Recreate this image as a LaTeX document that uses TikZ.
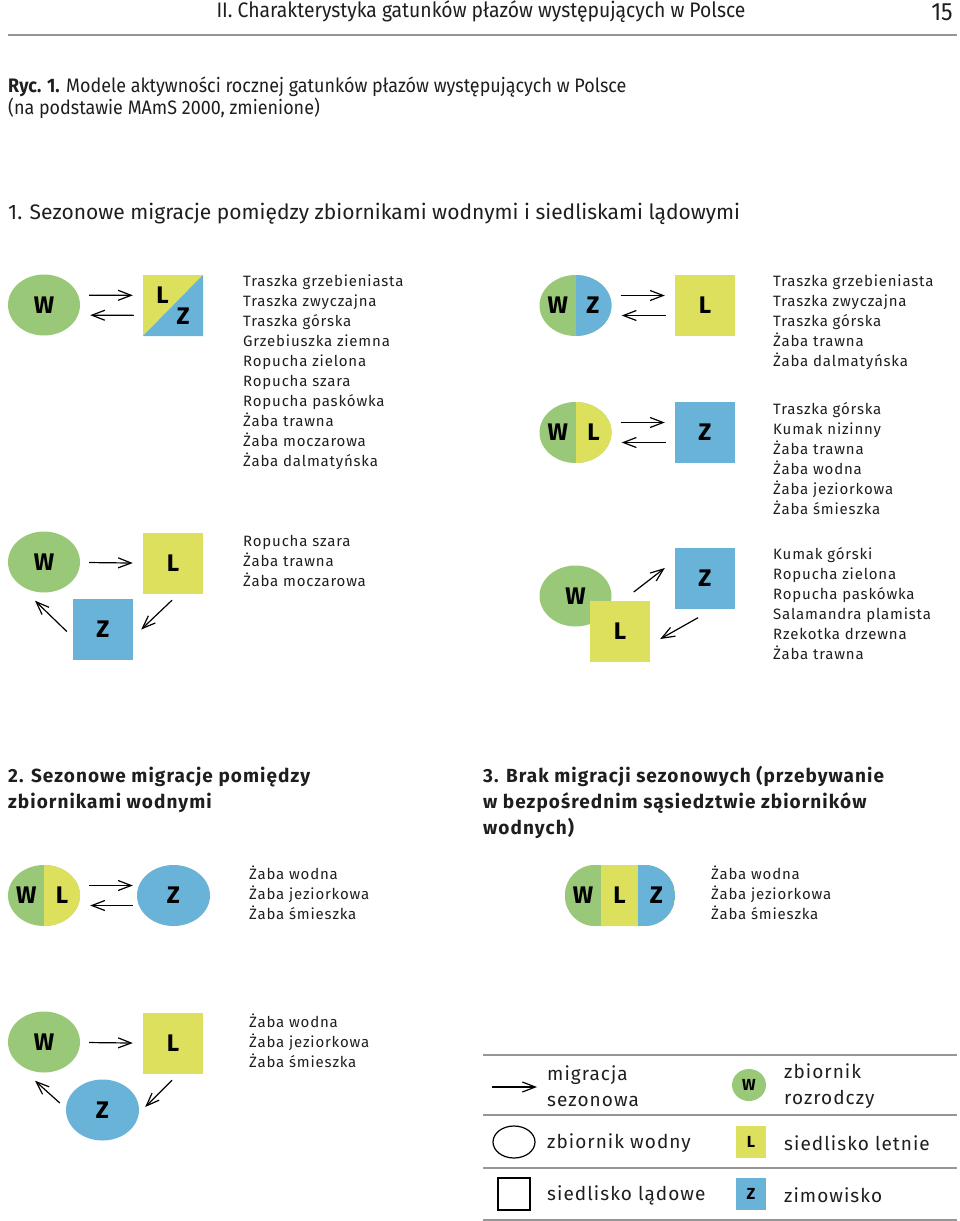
\documentclass[tikz,border=0pt]{standalone}
\usepackage{fontspec}
\setmainfont[LetterSpace=5.5]{Fira Sans}
\newfontfamily\plainfont{Fira Sans}
\newfontfamily\narrowfont[FakeStretch=0.92]{Fira Sans}
\newcommand\symfont{\plainfont\bfseries}
\usetikzlibrary{positioning,arrows.meta,shapes.geometric,calc}
\definecolor{WGreen}{RGB}{153,201,120}
\definecolor{LYellow}{RGB}{220,224,92}
\definecolor{ZBlue}{RGB}{106,179,216}
\definecolor{RuleGray}{RGB}{150,150,150}
\definecolor{DarkText}{RGB}{30,30,30}

\begin{document}
\begin{tikzpicture}[x=1pt, y=-1pt,
    pond/.style={ellipse, minimum width=72pt, minimum height=61pt, inner sep=0pt,
        fill=WGreen, text=black, font=\symfont\fontsize{24}{24}\selectfont},
    land/.style={rectangle, minimum width=60pt, minimum height=61pt, inner sep=0pt,
        text=black, font=\symfont\fontsize{24}{24}\selectfont},
    halfz/.style={path picture={\fill[#1] (path picture bounding box.north)
        rectangle (path picture bounding box.south east);}},
    arr/.style={-{Straight Barb[length=13pt,width=10pt]}, line width=1.2pt,
        shorten <=9pt, shorten >=10pt},
    spp/.style={anchor=north west, align=left, inner sep=0pt, text=DarkText,
        font=\fontsize{15}{20}\selectfont},
    head/.style={anchor=base west, align=left, inner sep=0pt, text=DarkText,
        font=\bfseries\fontsize{19}{26}\selectfont},
    leg/.style={anchor=west, align=left, inner sep=0pt, text=DarkText,
        font=\fontsize{19}{26}\selectfont},
    rule/.style={RuleGray, line width=1.5pt},
]
\useasboundingbox (0,0) rectangle (960,1221);

\node[text=DarkText, font=\narrowfont\fontsize{21}{21}\selectfont] (hd) at (481,12) {II. Charakterystyka gatunków płazów występujących w Polsce};
\node[text=DarkText, font=\narrowfont\fontsize{25}{25}\selectfont] (pg) at (942,12) {15};
\draw[RuleGray, line width=2pt] (8,35) -- (957,35);
\node[anchor=west, align=left, inner sep=0pt, text=DarkText, font=\narrowfont\fontsize{19.5}{22}\selectfont] (ryc) at (8,98)
    {\textbf{Ryc. 1.} Modele aktywności rocznej gatunków płazów występujących w Polsce\\(na podstawie MAmS 2000, zmienione)};

\node[head, font=\plainfont\fontsize{21}{26}\selectfont] (h1) at (8,219) {1. Sezonowe migracje pomiędzy zbiornikami wodnymi i siedliskami lądowymi};

\node[pond] (w1) at (44,305) {W};
\node[land, fill=LYellow, path picture={\fill[ZBlue] (path picture bounding box.south west)
    -- (path picture bounding box.north east) -- (path picture bounding box.south east) -- cycle;}]
    (lz1) at (173,305.5) {\raisebox{8pt}{L}\hspace{8pt}\raisebox{-13pt}{Z}};
\draw[arr, transform canvas={yshift=10pt}] (w1) -- (lz1);
\draw[arr, transform canvas={yshift=-10pt}] (lz1) -- (w1);
\node[spp] (s1) at (243,275) {Traszka grzebieniasta\\Traszka zwyczajna\\Traszka górska\\Grzebiuszka ziemna\\Ropucha zielona\\Ropucha szara\\Ropucha paskówka\\Żaba trawna\\Żaba moczarowa\\Żaba dalmatyńska};

\node[pond] (w2) at (44,562) {W};
\node[land, fill=LYellow] (l2) at (173,563.5) {L};
\node[land, fill=ZBlue] (z2) at (103,629.5) {Z};
\draw[arr] (w2) -- (l2);
\draw[arr, shorten <=0pt, shorten >=0pt] ([shift={(-1,6)}]l2.south) -- ([shift={(8,0)}]z2.east);
\draw[arr, shorten <=0pt, shorten >=0pt] ([shift={(-6,2)}]z2.west) -- ([shift={(-9,8)}]w2.south);
\node[spp] (s2) at (243,535) {Ropucha szara\\Żaba trawna\\Żaba moczarowa};

\node[pond, halfz=ZBlue] (wz3) at (575.5,305.5) {\makebox[0pt][r]{W\hspace{7.5pt}}\makebox[0pt][l]{\hspace{11pt}Z}};
\node[land, fill=LYellow] (l3) at (705,305.5) {L};
\draw[arr, transform canvas={yshift=10pt}] (wz3) -- (l3);
\draw[arr, transform canvas={yshift=-10pt}] (l3) -- (wz3);
\node[spp] (s3) at (773,275) {Traszka grzebieniasta\\Traszka zwyczajna\\Traszka górska\\Żaba trawna\\Żaba dalmatyńska};

\node[pond, halfz=LYellow] (wl4) at (575.5,432.5) {\makebox[0pt][r]{W\hspace{7.5pt}}\makebox[0pt][l]{\hspace{12pt}L}};
\node[land, fill=ZBlue] (z4) at (705,432.5) {Z};
\draw[arr, transform canvas={yshift=10pt}] (wl4) -- (z4);
\draw[arr, transform canvas={yshift=-10pt}] (z4) -- (wl4);
\node[spp] (s4) at (773,402) {Traszka górska\\Kumak nizinny\\Żaba trawna\\Żaba wodna\\Żaba jeziorkowa\\Żaba śmieszka};

\node[pond] (w5) at (575.5,596) {W};
\node[land, fill=LYellow] (l5) at (620,631) {L};
\node[land, fill=ZBlue] (z5) at (705,578) {Z};
\draw[arr, shorten <=0pt, shorten >=0pt] ([shift={(22,-4)}]w5.east) -- ([shift={(-10,-10)}]z5.west);
\draw[arr, shorten <=0pt, shorten >=0pt] ([shift={(-7,9)}]z5.south) -- ([shift={(10,8)}]l5.east);
\node[spp] (s5) at (773,547) {Kumak górski\\Ropucha zielona\\Ropucha paskówka\\Salamandra plamista\\Rzekotka drzewna\\Żaba trawna};

\node[head] (h2) at (8,808) {2. Sezonowe migracje pomiędzy\\zbiornikami wodnymi};
\node[head] (h3) at (483,834) {3. Brak migracji sezonowych (przebywanie\\w bezpośrednim sąsiedztwie zbiorników\\wodnych)};

\node[pond, halfz=LYellow] (wl6) at (44,895.5) {\makebox[0pt][r]{W\hspace{7.5pt}}\makebox[0pt][l]{\hspace{12pt}L}};
\node[pond, fill=ZBlue, minimum width=73pt] (z6) at (173.5,895.5) {Z};
\draw[arr, shorten >=4pt, transform canvas={yshift=10pt}] (wl6) -- (z6);
\draw[arr, shorten <=4pt, transform canvas={yshift=-10pt}] (z6) -- (wl6);
\node[spp] (s6) at (249,866) {Żaba wodna\\Żaba jeziorkowa\\Żaba śmieszka};

\node[rectangle, minimum width=110pt, minimum height=61pt, inner sep=0pt, rounded corners=30pt,
    fill=LYellow, text=black, font=\symfont\fontsize{24}{24}\selectfont,
    path picture={\fill[WGreen, sharp corners] (path picture bounding box.south west) rectangle ([xshift=36pt]path picture bounding box.north west);
                  \fill[ZBlue, sharp corners] (path picture bounding box.south east) rectangle ([xshift=-37pt]path picture bounding box.north east);}]
    (wlz7) at (620,895.5) {\makebox[36pt]{W}\makebox[37pt]{L}\makebox[37pt]{Z}};
\node[spp] (s7) at (711,866) {Żaba wodna\\Żaba jeziorkowa\\Żaba śmieszka};

\node[pond] (w8) at (44,1042) {W};
\node[land, fill=LYellow] (l8) at (173,1043.5) {L};
\node[pond, fill=ZBlue, minimum width=73pt] (z8) at (102.5,1110) {Z};
\draw[arr] (w8) -- (l8);
\draw[arr, shorten <=0pt, shorten >=0pt] ([shift={(-1,6)}]l8.south) -- ([shift={(6,-3)}]z8.east);
\draw[arr, shorten <=0pt, shorten >=0pt] ([shift={(-6,-7)}]z8.west) -- ([shift={(-9,8)}]w8.south);
\node[spp] (s8) at (249,1014) {Żaba wodna\\Żaba jeziorkowa\\Żaba śmieszka};

\draw[rule] (483,1055) -- (957,1055);
\draw[rule] (483,1115) -- (957,1115);
\draw[rule] (483,1168) -- (957,1168);
\draw[rule] (483,1220) -- (957,1220);

\coordinate (ka) at (492,1087);
\coordinate (kb) at (537,1087);
\draw[arr, shorten <=0pt, shorten >=0pt] (ka) -- (kb);
\node[leg] (k1) at (547,1086) {migracja\\sezonowa};
\node[pond, minimum width=34pt, minimum height=32pt, font=\symfont\fontsize{16}{16}\selectfont] (kw) at (749,1085) {W};
\node[leg] (k2) at (784,1086) {zbiornik\\rozrodczy};

\node[ellipse, draw, line width=1.2pt, minimum width=42pt, minimum height=32pt] (ko) at (514,1142) {};
\node[leg] (k3) at (547,1143) {zbiornik wodny};
\node[land, fill=LYellow, minimum width=30pt, minimum height=32pt, font=\symfont\fontsize{16}{16}\selectfont] (kl) at (751,1142) {L};
\node[leg] (k4) at (784,1143) {siedlisko letnie};

\node[rectangle, draw, line width=1.2pt, minimum size=32pt] (kq) at (514,1194) {};
\node[leg] (k5) at (547,1195) {siedlisko lądowe};
\node[land, fill=ZBlue, minimum width=30pt, minimum height=32pt, font=\symfont\fontsize{16}{16}\selectfont] (kz) at (751,1194) {Z};
\node[leg] (k6) at (784,1195) {zimowisko};
\end{tikzpicture}
\end{document}
